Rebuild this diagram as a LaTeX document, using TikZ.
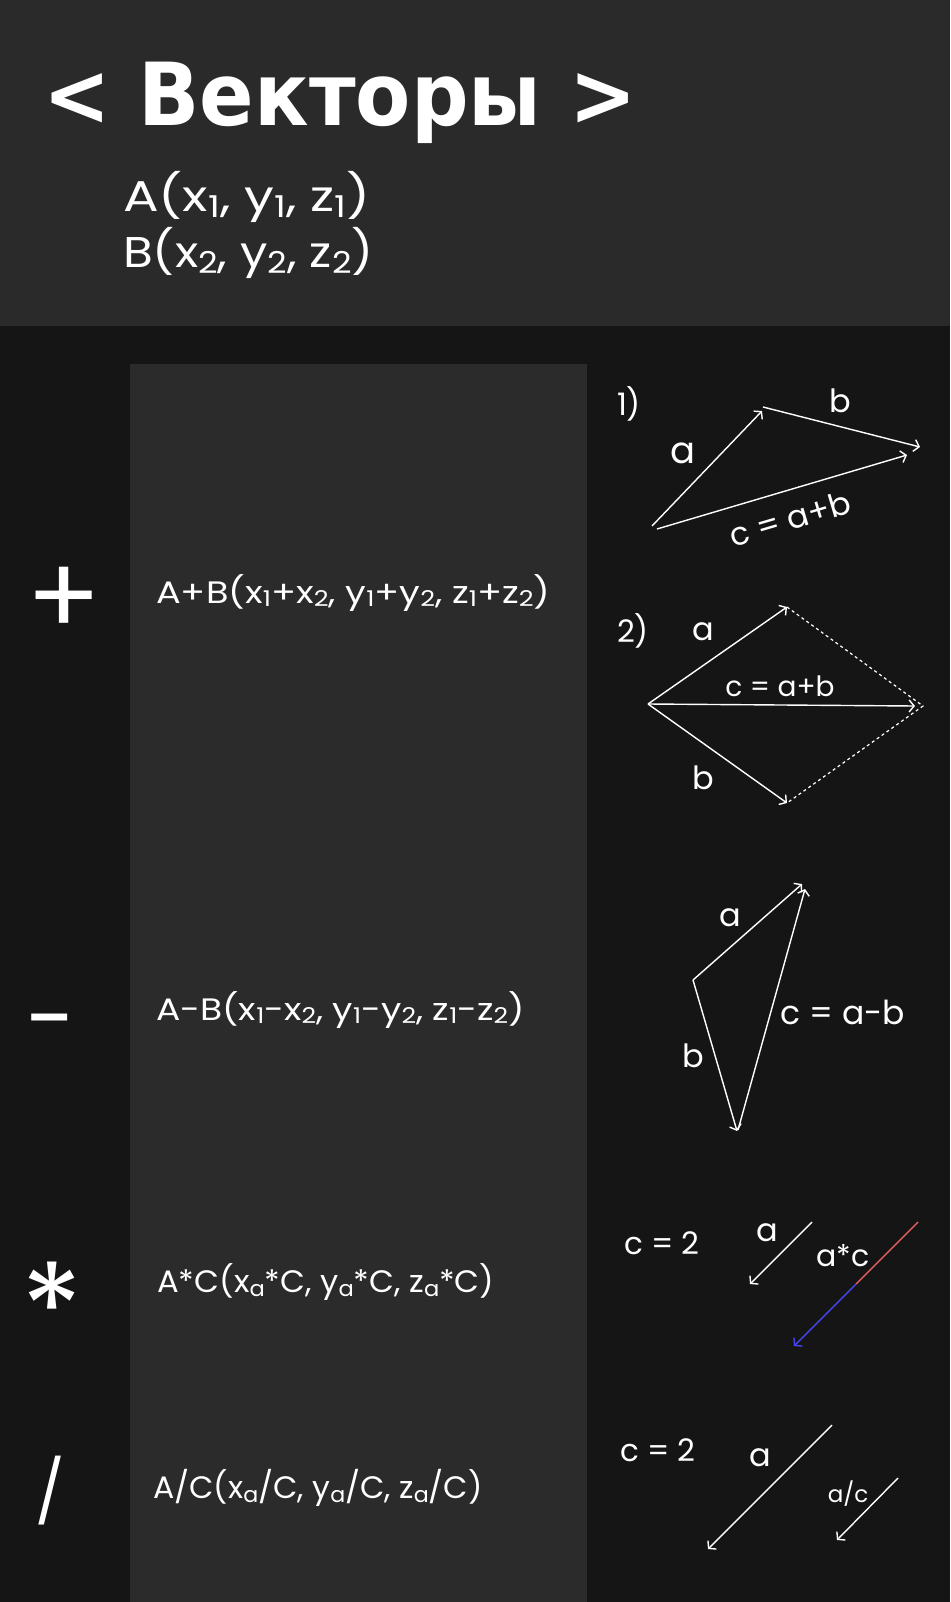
\documentclass[tikz,border=0pt]{standalone}
\usepackage{fontspec}
\usepackage{graphicx}
\setmainfont{Poppins}
\newfontfamily\titlefont{DejaVu Sans}
\usetikzlibrary{arrows.meta}
\definecolor{hdr}{HTML}{2A2A2A}
\definecolor{bgdark}{HTML}{151515}
\definecolor{panel}{HTML}{2B2B2B}
\definecolor{vred}{HTML}{E35D5D}
\definecolor{vblue}{HTML}{4646EE}
\newcommand\sbs[2][0.1em]{\raisebox{-#1}{\scalebox{0.7}{#2}}}
\newcommand\fs[1]{\fontsize{#1}{#1}\selectfont}
\newcommand\wide[2]{\scalebox{#1}[1]{#2}}
\tikzset{
  txt/.style={text=white, inner sep=0pt},
  formula/.style={txt, anchor=base west, font=\fs{31}},
  lbl/.style={txt, font=\fs{32}},
  vec/.style={draw=white, line width=1.4pt, -{Straight Barb[length=5pt,width=12pt,line width=1.4pt]}},
  dotline/.style={draw=white, line width=1.2pt, dash pattern=on 3pt off 3pt},
  opsym/.style={txt, anchor=north},
}
\begin{document}
\begin{tikzpicture}[x=1pt,y=-1pt]
\useasboundingbox (0,0) rectangle (950,1602);
\fill[bgdark] (0,0) rectangle (950,1602);
\fill[hdr] (0,0) rectangle (950,326);
\fill[panel] (130,364) rectangle (587,1602);

% header
\node[txt, anchor=base west, font=\titlefont\bfseries\fs{87}] (title) at (43,126) {\wide{0.925}{< Векторы >}};
\node[txt, anchor=base west, font=\fs{43}] (ptA) at (123,212) {\wide{1.23}{A(x\sbs[0.12em]{1}, y\sbs[0.12em]{1}, z\sbs[0.12em]{1})}};
\node[txt, anchor=base west, font=\fs{43}] (ptB) at (123,268) {\wide{1.13}{B(x\sbs[0.12em]{2}, y\sbs[0.12em]{2}, z\sbs[0.12em]{2})}};

% operation symbols
\node[opsym, font=\fs{110}] (plus) at (64,567) {+};
\node[opsym, font=\fs{90}] (minus) at (51,1014) {-};
\node[opsym, font=\fs{126}] (times) at (52,1262) {*};
\node[opsym, font=\fs{62}] (divide) at (50,1456) {/};

% formulas
\node[formula] (fadd) at (156,603) {\wide{1.185}{A+B(x\sbs{1}+x\sbs{2}, y\sbs{1}+y\sbs{2}, z\sbs{1}+z\sbs{2})}};
\node[formula] (fsub) at (156,1020) {\wide{1.165}{A-B(x\sbs{1}-x\sbs{2}, y\sbs{1}-y\sbs{2}, z\sbs{1}-z\sbs{2})}};
\node[formula] (fmul) at (157,1292) {\wide{1.04}{A*C(x\sbs[0.16em]{a}*C, y\sbs[0.16em]{a}*C, z\sbs[0.16em]{a}*C)}};
\node[formula] (fdiv) at (153,1498) {\wide{1.02}{A/C(x\sbs[0.16em]{a}/C, y\sbs[0.16em]{a}/C, z\sbs[0.16em]{a}/C)}};

% --- addition 1)
\node[lbl, font=\fs{31}] (n1) at (629,404) {1)};
\coordinate (a1s) at (652,526);
\coordinate (a1e) at (762,411);
\coordinate (b1s) at (763,407);
\coordinate (b1e) at (920,447);
\coordinate (c1s) at (657,529);
\coordinate (c1e) at (907,455);
\draw[vec] (a1s) -- (a1e);
\draw[vec] (b1s) -- (b1e);
\draw[vec] (c1s) -- (c1e);
\node[lbl, font=\fs{37}] (la1) at (683,453) {a};
\node[lbl] (lb1) at (840,401) {b};
\node[lbl, rotate=16.5] (lc1) at (790,519) {c = a+b};

% --- addition 2)
\node[lbl, font=\fs{31}] (n2) at (633,631) {2)};
\coordinate (o2) at (648,704);
\coordinate (a2) at (787,607);
\coordinate (b2) at (787,803);
\coordinate (c2) at (915,706);
\coordinate (d2) at (923,706);
\draw[vec] (o2) -- (a2);
\draw[vec] (o2) -- (b2);
\draw[vec] (o2) -- (c2);
\draw[dotline] (a2) -- (d2) -- (b2);
\node[lbl] (la2) at (703,632) {a};
\node[lbl] (lb2) at (703,778) {b};
\node[lbl, font=\fs{28}] (lc2) at (780,686) {c = a+b};

% --- subtraction
\coordinate (s0) at (693,980);
\coordinate (sa) at (802,884);
\coordinate (sb) at (737,1131);
\coordinate (sc0) at (738,1130);
\coordinate (sc1) at (805,889);
\draw[vec] (s0) -- (sa);
\draw[vec] (s0) -- (sb);
\draw[vec] (sc0) -- (sc1);
\node[lbl] (lsa) at (730,918) {a};
\node[lbl] (lsb) at (693,1056) {b};
\node[lbl, font=\fs{33}] (lsc) at (843,1012) {c = a-b};

% --- multiplication
\node[lbl, font=\fs{31}] (m2) at (662,1243) {c = 2};
\coordinate (ma0) at (812,1222);
\coordinate (ma1) at (750,1284);
\draw[vec] (ma0) -- (ma1);
\node[lbl] (lma) at (767,1233) {a};
\coordinate (mc0) at (918,1222);
\coordinate (mcm) at (856,1284);
\coordinate (mc1) at (794,1346);
\draw[vred, line width=1.4pt] (mc0) -- (mcm);
\draw[vblue, line width=1.4pt, -{Straight Barb[length=5pt,width=12pt,line width=1.4pt]}] (mcm) -- (mc1);
\node[lbl, font=\fs{30}] (lmc) at (843,1256) {a*c};

% --- division
\node[lbl, font=\fs{31}] (d2l) at (658,1450) {c = 2};
\coordinate (da0) at (832,1425);
\coordinate (da1) at (708,1549);
\draw[vec] (da0) -- (da1);
\node[lbl] (lda) at (760,1458) {a};
\coordinate (dc0) at (898,1478);
\coordinate (dc1) at (837,1540);
\draw[vec] (dc0) -- (dc1);
\node[lbl, font=\fs{23}] (ldc) at (848,1494) {a/c};
\end{tikzpicture}
\end{document}
